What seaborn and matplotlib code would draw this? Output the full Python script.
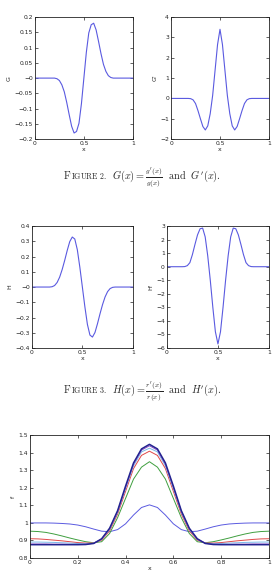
"""
Figures 2, 3 and the f(x) comparison plot, redrawn from the paper page.
"""

import matplotlib
matplotlib.use('Agg')
import matplotlib.pyplot as plt
import numpy as np
import pandas as pd
import seaborn as sns

# x grids
x_fine = np.linspace(0, 1, 41)
x_coarse = np.linspace(0, 1, 31)

# G(x) = g'(x)/g(x)
G_vals = [0, 0, 0, 0, 0, 0, 0, 0, 0,
          -0.002, -0.008, -0.022, -0.045, -0.08, -0.12, -0.158, -0.18, -0.175, -0.148, -0.084,
          0,
          0.084, 0.148, 0.175, 0.18, 0.158, 0.12, 0.08, 0.045, 0.022, 0.008, 0.002,
          0, 0, 0, 0, 0, 0, 0, 0, 0]

# G'(x)
dG_vals = [0, 0, 0, 0, 0, 0, 0, 0,
           -0.01, -0.07, -0.25, -0.6, -1.0, -1.38, -1.55, -1.35, -0.75, 0.15, 1.4, 2.65,
           3.4,
           2.65, 1.4, 0.15, -0.75, -1.35, -1.55, -1.38, -1.0, -0.6, -0.25, -0.07, -0.01,
           0, 0, 0, 0, 0, 0, 0, 0]

# H(x) = r'(x)/r(x)
H_vals = [0, 0, 0, 0, 0, 0, 0, 0,
          0.002, 0.01, 0.03, 0.065, 0.115, 0.175, 0.24, 0.298, 0.328, 0.315, 0.245, 0.13,
          0,
          -0.13, -0.245, -0.315, -0.328, -0.298, -0.24, -0.175, -0.115, -0.065, -0.03, -0.01, -0.002,
          0, 0, 0, 0, 0, 0, 0, 0]

# H'(x)
dH_vals = [0, 0, 0, 0, 0, 0, 0,
           0.01, 0.08, 0.3, 0.9, 1.65, 2.35, 2.8, 2.85, 2.2, 0.8, -1.0, -3.0, -4.8,
           -5.7,
           -4.8, -3.0, -1.0, 0.8, 2.2, 2.85, 2.8, 2.35, 1.65, 0.9, 0.3, 0.08, 0.01,
           0, 0, 0, 0, 0, 0, 0]

# f(x) curves in the bottom plot
f_blue = [1.0, 1.0, 1.0, 0.999, 0.997, 0.994, 0.988, 0.978, 0.965, 0.953, 0.95, 0.962, 0.995, 1.045, 1.088,
          1.103,
          1.088, 1.045, 0.995, 0.962, 0.95, 0.953, 0.965, 0.978, 0.988, 0.994, 0.997, 0.999, 1.0, 1.0, 1.0]
f_green = [0.953, 0.951, 0.946, 0.937, 0.926, 0.914, 0.903, 0.893, 0.887, 0.893, 0.94, 1.03, 1.14, 1.25, 1.318,
           1.349,
           1.318, 1.25, 1.14, 1.03, 0.94, 0.893, 0.887, 0.893, 0.903, 0.914, 0.926, 0.937, 0.946, 0.951, 0.953]
f_red = [0.91, 0.909, 0.906, 0.902, 0.898, 0.893, 0.888, 0.885, 0.886, 0.902, 0.955, 1.05, 1.18, 1.31, 1.385,
         1.409,
         1.385, 1.31, 1.18, 1.05, 0.955, 0.902, 0.886, 0.885, 0.888, 0.893, 0.898, 0.902, 0.906, 0.909, 0.91]
f_cyan = [0.891, 0.891, 0.89, 0.889, 0.887, 0.885, 0.883, 0.881, 0.885, 0.906, 0.963, 1.06, 1.195, 1.325, 1.405,
          1.426,
          1.405, 1.325, 1.195, 1.06, 0.963, 0.906, 0.885, 0.881, 0.883, 0.885, 0.887, 0.889, 0.89, 0.891, 0.891]
f_magenta = [0.88, 0.88, 0.88, 0.879, 0.879, 0.878, 0.878, 0.879, 0.884, 0.908, 0.967, 1.065, 1.203, 1.335, 1.415,
             1.44,
             1.415, 1.335, 1.203, 1.065, 0.967, 0.908, 0.884, 0.879, 0.878, 0.878, 0.879, 0.879, 0.88, 0.88, 0.88]
f_navy = [0.876, 0.876, 0.876, 0.876, 0.876, 0.876, 0.876, 0.877, 0.883, 0.91, 0.97, 1.07, 1.21, 1.342, 1.422,
          1.448,
          1.422, 1.342, 1.21, 1.07, 0.97, 0.91, 0.883, 0.877, 0.876, 0.876, 0.876, 0.876, 0.876, 0.876, 0.876]

f_series = ['blue', 'green', 'red', 'cyan', 'magenta', 'navy']
f_colors = ['#5a5ae0', '#3f9f3f', '#e04848', '#7ab8e8', '#8a4ac8', '#23238f']

LINE_BLUE = '#5a5ae0'
W, H = 275, 582


def fmt(v):
    s = f"{v:g}"
    return s.replace('-', '\u2212')


def style_axes(ax, xticks, yticks, ylim, ylabel):
    ax.set_xlim(0, 1)
    ax.set_ylim(*ylim)
    ax.set_xticks(xticks)
    ax.set_xticklabels([fmt(v) for v in xticks])
    ax.set_yticks(yticks)
    ax.set_yticklabels([fmt(v) for v in yticks])
    ax.tick_params(direction='in', top=True, right=True, length=2, width=0.5,
                   labelsize=4.3, pad=1.5, colors='#222222')
    for sp in ax.spines.values():
        sp.set_linewidth(0.6)
        sp.set_color('#222222')
    ax.set_xlabel('x', fontsize=4.5, labelpad=0.5)
    ax.set_ylabel(ylabel, fontsize=4.5, labelpad=2)


def caption(fig, x_px, y_px, num, expr):
    # small caps "FIGURE n." followed by the math part, all on one baseline
    y = 1 - y_px / H
    parts = [(r'$\mathrm{F}$', 7.4, 0), (rf'$\mathrm{{IGURE\ {num}.}}$', 5.7, 0), (expr, 7.4, 5)]
    x = x_px / W
    renderer = fig.canvas.get_renderer()
    for txt, size, gap in parts:
        x += gap / W
        t = fig.text(x, y, txt, fontsize=size, va='baseline', ha='left')
        bb = t.get_window_extent(renderer=renderer)
        x = bb.x1 / W


def main():
    sns.set_style('ticks')
    plt.rcParams['font.family'] = ['DejaVu Sans']
    plt.rcParams['mathtext.fontset'] = 'cm'

    fig = plt.figure(figsize=(2.75, 5.82), dpi=100)
    fig.patch.set_facecolor('white')

    # Figure 2
    ax1 = fig.add_axes([0.127, 0.761, 0.356, 0.2096])
    sns.lineplot(x=x_fine, y=G_vals, ax=ax1, color=LINE_BLUE, lw=0.8)
    style_axes(ax1, [0, 0.5, 1], np.round(np.arange(-0.2, 0.201, 0.05), 2), (-0.2, 0.2), 'G')

    ax2 = fig.add_axes([0.622, 0.761, 0.356, 0.2096])
    sns.lineplot(x=x_fine, y=dG_vals, ax=ax2, color=LINE_BLUE, lw=0.8)
    style_axes(ax2, [0, 0.5, 1], list(range(-2, 5)), (-2, 4), "G'")

    caption(fig, 63, 179, 2, r"$G(x) = \frac{g'(x)}{g(x)}\ \ \mathrm{and}\ \ G'(x).$")

    # Figure 3
    ax3 = fig.add_axes([0.116, 0.402, 0.367, 0.2096])
    sns.lineplot(x=x_fine, y=H_vals, ax=ax3, color=LINE_BLUE, lw=0.8)
    style_axes(ax3, [0, 0.5, 1], np.round(np.arange(-0.4, 0.401, 0.1), 1), (-0.4, 0.4), 'H')

    ax4 = fig.add_axes([0.607, 0.402, 0.371, 0.2096])
    sns.lineplot(x=x_fine, y=dH_vals, ax=ax4, color=LINE_BLUE, lw=0.8)
    style_axes(ax4, [0, 0.5, 1], list(range(-6, 4)), (-6, 3), "H'")

    caption(fig, 63, 393, 3, r"$H(x) = \frac{r'(x)}{r(x)}\ \ \mathrm{and}\ \ H'(x).$")

    # bottom f(x) plot
    df = pd.DataFrame({
        'x': np.tile(x_coarse, len(f_series)),
        'f': np.concatenate([f_blue, f_green, f_red, f_cyan, f_magenta, f_navy]),
        'series': np.repeat(f_series, len(x_coarse)),
    })
    ax5 = fig.add_axes([0.109, 0.0412, 0.869, 0.211])
    sns.lineplot(data=df, x='x', y='f', hue='series', palette=f_colors,
                 hue_order=f_series, ax=ax5, lw=0.7, legend=False)
    ax5.lines[-1].set_linewidth(1.1)
    style_axes(ax5, np.round(np.arange(0, 1.01, 0.2), 1), np.round(np.arange(0.8, 1.51, 0.1), 1),
               (0.8, 1.5), 'f')

    plt.savefig('out.png', dpi=100)
    plt.close()


if __name__ == "__main__":
    main()
